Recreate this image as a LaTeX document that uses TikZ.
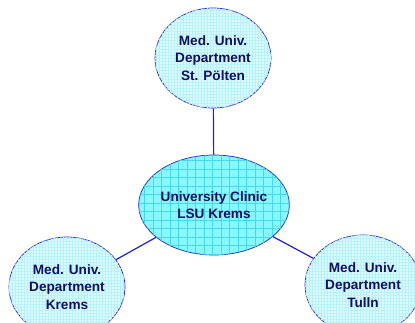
\documentclass[tikz,border=0pt]{standalone}
\usepackage{fontspec}
\setmainfont{Liberation Sans}
\usetikzlibrary{patterns.meta,shapes.geometric}
\definecolor{rim}{RGB}{30,30,225}
\definecolor{ink}{RGB}{15,15,100}
\definecolor{hubfill}{RGB}{135,248,255}
\definecolor{hubgrid}{RGB}{70,215,245}
\definecolor{sitefill}{RGB}{222,252,255}
\definecolor{sitegrid}{RGB}{180,242,252}
\tikzset{
  base/.style={ellipse, draw=rim, line width=0.7pt, align=center, text=ink,
    font=\fontsize{13.6}{17.5}\selectfont\bfseries, inner sep=0pt},
  hub/.style={base, minimum width=114pt, minimum height=100pt, fill=hubfill,
    postaction={pattern={Lines[angle=0,distance=8.5pt,line width=0.45pt]}, pattern color=hubgrid},
    postaction={pattern={Lines[angle=90,distance=8.5pt,line width=0.45pt]}, pattern color=hubgrid}},
  site/.style={base, minimum width=116pt, minimum height=100pt, fill=sitefill,
    postaction={pattern={Lines[angle=0,distance=3pt,line width=0.45pt]}, pattern color=sitegrid},
    postaction={pattern={Lines[angle=90,distance=3pt,line width=0.45pt]}, pattern color=sitegrid}},
  link/.style={draw=rim, line width=1.2pt}
}
\begin{document}
\begin{tikzpicture}[x=1pt,y=-1pt]
  \useasboundingbox (0,0) rectangle (415,322);
  % central clinic and the three departments around it
  \node[hub]  (hub)  at (214,205) {University Clinic\\LSU Krems};
  \node[site] (top)  at (213,58)  {Med. Univ.\\Department\\St. Pölten};
  \node[site] (left) at (67,287)  {Med. Univ.\\Department\\Krems};
  \node[site] (right) at (363,285) {Med. Univ.\\Department\\Tulln};
  \draw[link] (top) -- (hub);
  \draw[link] (hub) -- (left);
  \draw[link] (hub) -- (right);
\end{tikzpicture}
\end{document}
